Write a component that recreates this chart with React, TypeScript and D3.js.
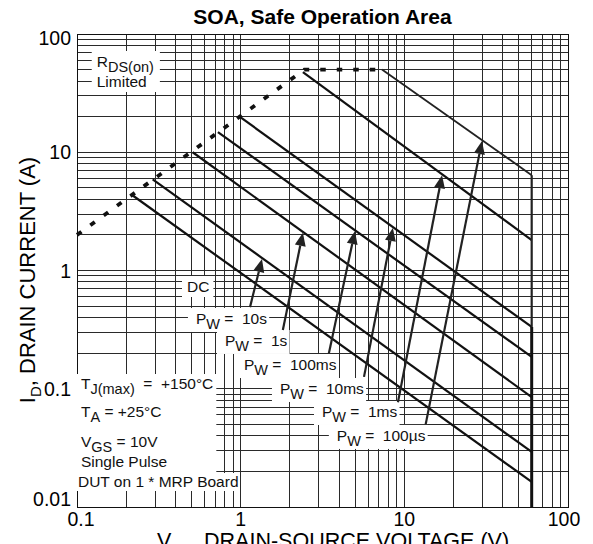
import React, { useEffect, useRef } from "react";
import * as d3 from "d3";

// axis domains and tick labels
const vDomain: [number, number] = [0.1, 100];
const iDomain: [number, number] = [0.01, 100];
const vTicks = [0.1, 1, 10, 100];
const iTicks = [0.01, 0.1, 1, 10, 100];

// RDS(on) limit (V, A)
const rdsV = [0.1, 2.45, 7.3];
const rdsA = [2.0, 50, 50];

// pulse lines, from the RDS(on) limit down to VDS max
const vdsMax = 60;
const pulseNames = ["100µs", "1ms", "10ms", "100ms", "1s", "10s", "DC"];
const startV = [7.3, 2.4, 1.0, 0.726, 0.509, 0.29, 0.217];
const startA = [50, 47.5, 19.7, 14.8, 10.0, 5.9, 4.35];
const endA = [6.4, 1.81, 0.333, 0.186, 0.085, 0.0292, 0.0163];

// pulse width labels with arrows (V, A)
const pwLabels = ["10s", "1s", "100ms", "10ms", "1ms", "100µs"];
const pwLabelV = [0.533, 0.802, 1.047, 1.738, 3.14, 3.87];
const pwLabelA = [0.353, 0.23, 0.144, 0.0903, 0.0577, 0.0362];
const arrowTailV = [1.14, 1.81, 3.46, 5.67, 9.14, 13.5];
const arrowTailA = [0.49, 0.314, 0.2, 0.126, 0.077, 0.05];
const arrowTipV = [1.35, 2.4, 4.99, 8.51, 17.0, 29.8];

const width = 593;
const height = 544;
const margin = { top: 34, right: 25, bottom: 37, left: 77 };
const font = "'Liberation Sans', Arial, Helvetica, sans-serif";
const sp = "\u00a0";

type Part = { t: string; sub?: boolean };

const addRich = (
  sel: d3.Selection<SVGTextElement, unknown, null, undefined>,
  parts: Part[],
  subSize: number,
  shift: number
) => {
  let prevSub = false;
  parts.forEach((p) => {
    const ts = sel.append("tspan").text(p.t);
    if (p.sub) ts.attr("font-size", subSize);
    if (!!p.sub !== prevSub) ts.attr("dy", p.sub ? shift : -shift);
    prevSub = !!p.sub;
  });
};

const App = () => {
  const ref = useRef<SVGSVGElement>(null);

  useEffect(() => {
    const svg = d3.select(ref.current);
    svg.selectAll("*").remove();
    svg.attr("font-family", font);

    const x = d3
      .scaleLog()
      .domain(vDomain)
      .range([margin.left, width - margin.right]);
    const y = d3
      .scaleLog()
      .domain(iDomain)
      .range([height - margin.bottom, margin.top]);
    const [x0, x1] = x.range();
    const [y0, y1] = y.range();

    svg
      .append("text")
      .attr("x", 322.5)
      .attr("y", 24)
      .attr("text-anchor", "middle")
      .attr("font-weight", "bold")
      .attr("font-size", 21)
      .text("SOA, Safe Operation Area");

    // log grid
    const grid = svg
      .append("g")
      .attr("stroke", "#2a2a2a")
      .attr("stroke-width", 1)
      .attr("shape-rendering", "crispEdges");
    grid
      .selectAll("line.v")
      .data(x.ticks())
      .enter()
      .append("line")
      .attr("x1", (d) => x(d))
      .attr("x2", (d) => x(d))
      .attr("y1", y1)
      .attr("y2", y0);
    grid
      .selectAll("line.h")
      .data(y.ticks())
      .enter()
      .append("line")
      .attr("x1", x0)
      .attr("x2", x1)
      .attr("y1", (d) => y(d))
      .attr("y2", (d) => y(d));
    svg
      .append("rect")
      .attr("x", x0)
      .attr("y", y1)
      .attr("width", x1 - x0)
      .attr("height", y0 - y1)
      .attr("fill", "none")
      .attr("stroke", "#111")
      .attr("shape-rendering", "crispEdges");

    // tick labels
    svg
      .selectAll("text.xt")
      .data(vTicks)
      .enter()
      .append("text")
      .attr("x", (d) => Math.min(Math.max(x(d), x0 + 4), x1 - 4))
      .attr("y", 526)
      .attr("text-anchor", "middle")
      .attr("font-size", 19.5)
      .text((d) => String(d));
    svg
      .selectAll("text.yt")
      .data(iTicks)
      .enter()
      .append("text")
      .attr("x", 71)
      .attr("y", (d) => Math.min(Math.max(y(d), y1 + 4), y0 - 8))
      .attr("dy", "0.36em")
      .attr("text-anchor", "end")
      .attr("font-size", 19.5)
      .text((d) => String(d));

    // axis titles
    const yt = svg
      .append("text")
      .attr("transform", "translate(35,280) rotate(-90)")
      .attr("text-anchor", "middle")
      .attr("font-size", 22);
    addRich(yt, [{ t: "I" }, { t: "D", sub: true }, { t: ", DRAIN CURRENT (A)" }], 15, 6);
    const xt = svg
      .append("text")
      .attr("x", 333)
      .attr("y", 548)
      .attr("text-anchor", "middle")
      .attr("font-size", 21.5);
    addRich(xt, [{ t: "V" }, { t: "DS", sub: true }, { t: ", DRAIN-SOURCE VOLTAGE (V)" }], 15, 6);

    // labelled boxes
    const labels = svg.append("g").attr("font-size", 15.5).attr("fill", "#111");
    const boxed = (
      vx: number,
      ia: number,
      lines: Part[][],
      pad: [number, number, number, number]
    ) => {
      const g = labels.append("g");
      lines.forEach((parts, k) => {
        const t = g
          .append("text")
          .attr("x", x(vx))
          .attr("y", y(ia) + k * 20);
        addRich(t, parts, 14.5, 5);
      });
      const b = (g.node() as SVGGElement).getBBox();
      g.insert("rect", "text")
        .attr("x", b.x - pad[3])
        .attr("y", b.y - pad[0])
        .attr("width", b.width + pad[1] + pad[3])
        .attr("height", b.height + pad[0] + pad[2])
        .attr("fill", "#fff");
    };

    boxed(0.132, 52.6, [[{ t: "R" }, { t: "DS(on)", sub: true }], [{ t: "Limited" }]], [2, 6, 2, 5]);
    boxed(0.47, 0.658, [[{ t: "DC" }]], [2, 4, 2, 5]);
    pwLabels.forEach((p, i) => {
      boxed(
        pwLabelV[i],
        pwLabelA[i],
        [[{ t: "P" }, { t: "W", sub: true }, { t: sp + "=" + sp + sp + p }]],
        [2, 2, 0, 8]
      );
    });

    // test conditions
    const cond = labels.append("g");
    const condRows: Part[][] = [
      [{ t: "T" }, { t: "J(max)", sub: true }, { t: sp + sp + "=" + sp + sp + "+150°C" }],
      [{ t: "T" }, { t: "A", sub: true }, { t: sp + "=" + sp + "+25°C" }],
      [{ t: "V" }, { t: "GS", sub: true }, { t: sp + "=" + sp + "10V" }],
      [{ t: "Single Pulse" }],
    ];
    const condDy = [0, 28, 58, 78];
    condRows.forEach((parts, k) => {
      const t = cond
        .append("text")
        .attr("x", x(0.1057))
        .attr("y", y(0.0995) + condDy[k]);
      addRich(t, parts, 14.5, 5);
    });
    const dut = labels
      .append("text")
      .attr("x", x(0.1014))
      .attr("y", y(0.01476))
      .text("DUT on 1 * MRP Board");
    const cb = (cond.node() as SVGGElement).getBBox();
    const db = (dut.node() as SVGTextElement).getBBox();
    cond
      .insert("rect", "text")
      .attr("x", x0)
      .attr("y", cb.y - 1)
      .attr("width", cb.x + cb.width + 3 - x0)
      .attr("height", db.y + 2 - cb.y)
      .attr("fill", "#fff");
    labels
      .insert("rect", () => dut.node())
      .attr("x", x0)
      .attr("y", db.y)
      .attr("width", db.x + db.width + 1 - x0)
      .attr("height", db.height + 1)
      .attr("fill", "#fff");

    // curves
    const line = d3
      .line<[number, number]>()
      .x((d) => x(d[0]))
      .y((d) => y(d[1]));
    svg
      .append("path")
      .attr("d", line(rdsV.map((v, i) => [v, rdsA[i]] as [number, number])))
      .attr("fill", "none")
      .attr("stroke", "#111")
      .attr("stroke-width", 3.8)
      .attr("stroke-dasharray", "5.5 11");
    svg
      .selectAll("path.pulse")
      .data(pulseNames)
      .enter()
      .append("path")
      .attr("d", (_, i) =>
        line([
          [startV[i], startA[i]],
          [vdsMax, endA[i]],
        ])
      )
      .attr("fill", "none")
      .attr("stroke", (_, i) => (i === 0 ? "#222" : "#111"))
      .attr("stroke-width", (_, i) => (i === 0 ? 1.8 : 2.2));
    // VDS max
    svg
      .append("line")
      .attr("x1", x(vdsMax))
      .attr("x2", x(vdsMax))
      .attr("y1", y(endA[0]))
      .attr("y2", y(endA[2]))
      .attr("stroke", "#222")
      .attr("stroke-width", 2.2);
    svg
      .append("line")
      .attr("x1", x(vdsMax))
      .attr("x2", x(vdsMax))
      .attr("y1", y(endA[2]))
      .attr("y2", y0)
      .attr("stroke", "#111")
      .attr("stroke-width", 3);

    // arrows to the pulse lines
    const onLine = (k: number, v: number) => {
      const t = Math.log(v / startV[k]) / Math.log(vdsMax / startV[k]);
      return Math.exp(Math.log(startA[k]) + t * Math.log(endA[k] / startA[k]));
    };
    const arrows = svg.append("g").attr("fill", "#222").attr("stroke", "#222");
    pwLabels.forEach((p, i) => {
      const k = pulseNames.indexOf(p);
      const tx = x(arrowTailV[i]);
      const ty = y(arrowTailA[i]);
      const hx = x(arrowTipV[i]);
      const hy = y(onLine(k, arrowTipV[i])) + 1;
      const len = Math.hypot(hx - tx, hy - ty);
      const ux = (hx - tx) / len;
      const uy = (hy - ty) / len;
      const hl = 13;
      const hw = 5.5;
      const bx = hx - ux * hl;
      const by = hy - uy * hl;
      arrows
        .append("line")
        .attr("x1", tx)
        .attr("y1", ty)
        .attr("x2", bx)
        .attr("y2", by)
        .attr("stroke-width", 2.2);
      arrows
        .append("path")
        .attr("stroke", "none")
        .attr(
          "d",
          `M${hx},${hy}L${bx - uy * hw},${by + ux * hw}L${bx + uy * hw},${by - ux * hw}Z`
        );
    });
  }, []);

  return (
    <svg
      ref={ref}
      width={width}
      height={height}
      style={{ position: "absolute", left: 0, top: 0, background: "#fff" }}
    ></svg>
  );
};

export default App;
